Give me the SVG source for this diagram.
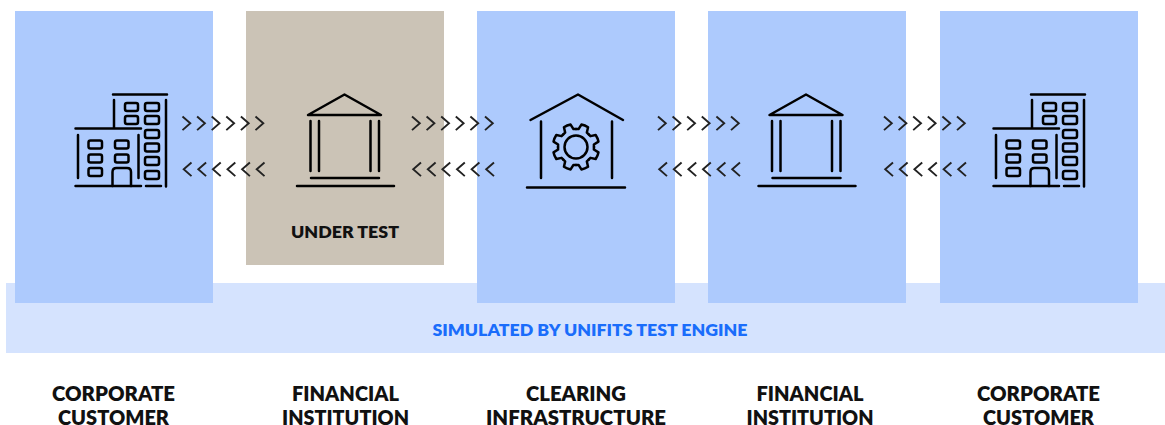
<svg xmlns="http://www.w3.org/2000/svg" xmlns:xlink="http://www.w3.org/1999/xlink" width="1165" height="425" viewBox="0 0 1165 425">
<style>
.panel{fill:#adcafd}
.ut{fill:#cbc3b6}
.band{fill:#d5e3fe}
.ic{fill:none;stroke:#000;stroke-width:2.5;stroke-linecap:round;stroke-linejoin:round}
.ch{fill:none;stroke:#222;stroke-width:1.9}
text{font-family:Lato,"Noto Sans","Liberation Sans",sans-serif;font-weight:800;text-anchor:middle;fill:#111}
.lb{font-size:20px}
.sm{font-size:17px}
</style>
<defs>
<g id="building" class="ic">
<path d="M113 94.500H167M114 100V128M166 100V186.500M75.500 128.500H141M78 135V178M138.500 135V178M75.500 186H141M146 186H161"/>
<rect x="125" y="103" width="13" height="8" rx="2"/><rect x="125" y="116" width="13" height="8" rx="2"/>
<rect x="145" y="103" width="14" height="8" rx="2"/><rect x="145" y="116" width="14" height="8" rx="2"/><rect x="145" y="130" width="14" height="8" rx="2"/><rect x="145" y="143.500" width="14" height="8" rx="2"/><rect x="145" y="157" width="14" height="8" rx="2"/><rect x="145" y="171" width="14" height="8" rx="2"/>
<rect x="88.500" y="140.500" width="13.500" height="8" rx="2"/><rect x="88.500" y="154.500" width="13.500" height="8" rx="2"/><rect x="88.500" y="168" width="13.500" height="8" rx="2"/>
<rect x="115" y="140.500" width="13.500" height="8" rx="2"/><rect x="115" y="154.500" width="13.500" height="8" rx="2"/>
<path d="M112.500 186V172Q112.500 168 116.500 168H127Q131 168 131 172V186"/>
</g>
<g id="bank" class="ic">
<path d="M308 115L344.500 94.500L381 115ZM310.500 121V171M319 121V171M370.500 121V171M379 121V171M311 178H379M297 186H394"/>
</g>
<path id="tooth" d="M-6.900 -16.600L-4.500 -17.500L-3.600 -22.800Q0 -23.500 3.600 -22.800L4.500 -17.500L6.900 -16.600"/>
<path id="chev" d="M0 -6.800L7.800 0L0 6.800" class="ch"/>
<g id="chevrons-right"><use xlink:href="#chev" x="0"/><use xlink:href="#chev" x="14.600"/><use xlink:href="#chev" x="29.200"/><use xlink:href="#chev" x="43.800"/><use xlink:href="#chev" x="58.400"/><use xlink:href="#chev" x="73"/></g>
<g id="chevrons-pair">
<use xlink:href="#chevrons-right" y="123.300"/>
<use xlink:href="#chevrons-right" transform="translate(82 169.300) scale(-1 1)"/>
</g>
</defs>
<rect id="sim-band" class="band" x="6" y="283" width="1159" height="70"/>
<g id="node-corporate-left"><rect class="panel" x="15" y="11" width="198" height="292"/><use xlink:href="#building"/></g>
<g id="node-financial-left"><rect class="ut" x="246" y="11" width="198" height="254"/><use xlink:href="#bank"/><text class="sm" x="345" y="238" textLength="108" lengthAdjust="spacingAndGlyphs">UNDER TEST</text></g>
<g id="node-clearing"><rect class="panel" x="477" y="11" width="198" height="292"/>
<g class="ic"><path d="M530.500 120L578 94.500L623 120M541 121.500V178M612 121.500V178M527 187.500H625"/><circle cx="576" cy="147" r="11.500"/>
<g transform="translate(576 147)"><use xlink:href="#tooth" transform="rotate(22.500)"/><use xlink:href="#tooth" transform="rotate(67.500)"/><use xlink:href="#tooth" transform="rotate(112.500)"/><use xlink:href="#tooth" transform="rotate(157.500)"/><use xlink:href="#tooth" transform="rotate(202.500)"/><use xlink:href="#tooth" transform="rotate(247.500)"/><use xlink:href="#tooth" transform="rotate(292.500)"/><use xlink:href="#tooth" transform="rotate(337.500)"/></g></g></g>
<g id="node-financial-right"><rect class="panel" x="708" y="11" width="198" height="292"/><use xlink:href="#bank" x="461.500"/></g>
<g id="node-corporate-right"><rect class="panel" x="940" y="11" width="198" height="292"/><use xlink:href="#building" x="918"/></g>
<g id="connectors">
<use xlink:href="#chevrons-pair" x="182.500"/>
<use xlink:href="#chevrons-pair" x="412"/>
<use xlink:href="#chevrons-pair" x="658"/>
<use xlink:href="#chevrons-pair" x="884"/>
</g>
<text class="sm" x="590" y="336" textLength="315" lengthAdjust="spacingAndGlyphs" style="fill:#1a6dfb">SIMULATED BY UNIFITS TEST ENGINE</text>
<g id="labels" class="lb">
<text x="113.500" y="400.500" textLength="123" lengthAdjust="spacingAndGlyphs">CORPORATE</text><text x="113.500" y="424.500" textLength="111" lengthAdjust="spacingAndGlyphs">CUSTOMER</text>
<text x="345.500" y="400.500" textLength="107" lengthAdjust="spacingAndGlyphs">FINANCIAL</text><text x="345.500" y="424.500" textLength="127" lengthAdjust="spacingAndGlyphs">INSTITUTION</text>
<text x="576" y="400.500" textLength="100" lengthAdjust="spacingAndGlyphs">CLEARING</text><text x="576" y="424.500" textLength="180" lengthAdjust="spacingAndGlyphs">INFRASTRUCTURE</text>
<text x="810" y="400.500" textLength="107" lengthAdjust="spacingAndGlyphs">FINANCIAL</text><text x="810" y="424.500" textLength="127" lengthAdjust="spacingAndGlyphs">INSTITUTION</text>
<text x="1038.500" y="400.500" textLength="123" lengthAdjust="spacingAndGlyphs">CORPORATE</text><text x="1038.500" y="424.500" textLength="111" lengthAdjust="spacingAndGlyphs">CUSTOMER</text>
</g>
</svg>
